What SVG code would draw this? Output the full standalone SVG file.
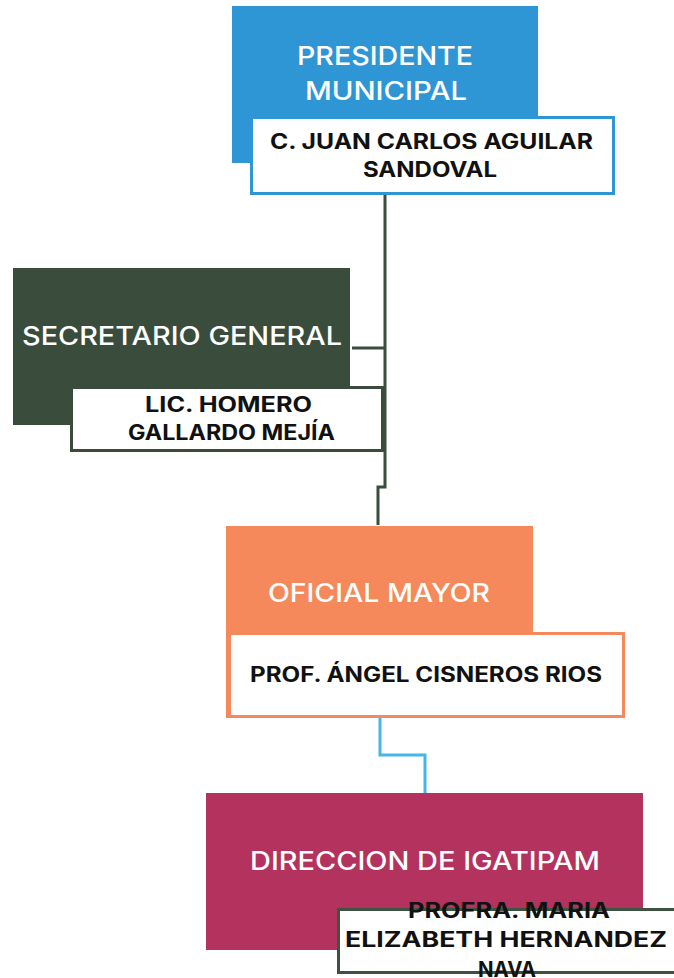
<svg xmlns="http://www.w3.org/2000/svg" width="674" height="978" viewBox="0 0 674 978">
<style>
.title{font-family:Inter,"Open Sans","Liberation Sans",sans-serif;font-weight:500;font-size:25px;fill:#ffffff;text-anchor:middle}
.name{font-family:Inter,"Open Sans","Liberation Sans",sans-serif;font-weight:700;font-size:21px;fill:#111111;text-anchor:middle}
.card{fill:#ffffff;stroke-width:3}
.conn{fill:none;stroke-width:3;stroke-linejoin:miter}
</style>
<rect width="674" height="978" fill="#ffffff"/>
<g id="connectors">
<path class="conn" stroke="#3b4d3d" d="M385,195 V487 H378 V525"/>
<path class="conn" stroke="#3b4d3d" d="M352,348 H385"/>
<path class="conn" stroke="#45b6ea" d="M380,718 V755 H425 V794"/>
</g>
<g id="presidente">
<rect x="232" y="6" width="306" height="157" fill="#2f96d6"/>
<rect class="card" x="251.5" y="117.5" width="362" height="76" stroke="#2f96d6"/>
<text class="title" x="385" y="65" textLength="176" lengthAdjust="spacingAndGlyphs">PRESIDENTE</text>
<text class="title" x="386" y="100" textLength="162" lengthAdjust="spacingAndGlyphs">MUNICIPAL</text>
<text class="name" x="431.5" y="149" font-size="22" textLength="323" lengthAdjust="spacingAndGlyphs">C. JUAN CARLOS AGUILAR</text>
<text class="name" x="430" y="177" font-size="22" textLength="134" lengthAdjust="spacingAndGlyphs">SANDOVAL</text>
</g>
<g id="secretario">
<rect x="13" y="268" width="337" height="157" fill="#3a4c3b"/>
<rect class="card" x="71.5" y="387.5" width="311" height="63" stroke="#3a4c3b"/>
<text class="title" x="182" y="345" textLength="320" lengthAdjust="spacingAndGlyphs">SECRETARIO GENERAL</text>
<text class="name" x="228.5" y="412" textLength="167" lengthAdjust="spacingAndGlyphs">LIC. HOMERO</text>
<text class="name" x="231.5" y="440" textLength="207" lengthAdjust="spacingAndGlyphs">GALLARDO MEJÍA</text>
</g>
<g id="oficial">
<rect x="226" y="526" width="307" height="192" fill="#f5895b"/>
<rect class="card" x="229.5" y="633.5" width="394" height="83" stroke="#f5895b"/>
<text class="title" x="379" y="602" textLength="222" lengthAdjust="spacingAndGlyphs">OFICIAL MAYOR</text>
<text class="name" x="426" y="682" textLength="352" lengthAdjust="spacingAndGlyphs">PROF. ÁNGEL CISNEROS RIOS</text>
</g>
<g id="direccion">
<rect x="206" y="793" width="437" height="157" fill="#b4325e"/>
<rect class="card" x="338.5" y="909.5" width="338" height="63" stroke="#3d5240"/>
<text class="title" x="425" y="870" textLength="350" lengthAdjust="spacingAndGlyphs">DIRECCION DE IGATIPAM</text>
<text class="name" x="509" y="918" textLength="202" lengthAdjust="spacingAndGlyphs">PROFRA. MARIA</text>
<text class="name" x="506" y="947" textLength="322" lengthAdjust="spacingAndGlyphs">ELIZABETH HERNANDEZ</text>
<text class="name" x="507" y="977" textLength="58" lengthAdjust="spacingAndGlyphs">NAVA</text>
</g>
</svg>
